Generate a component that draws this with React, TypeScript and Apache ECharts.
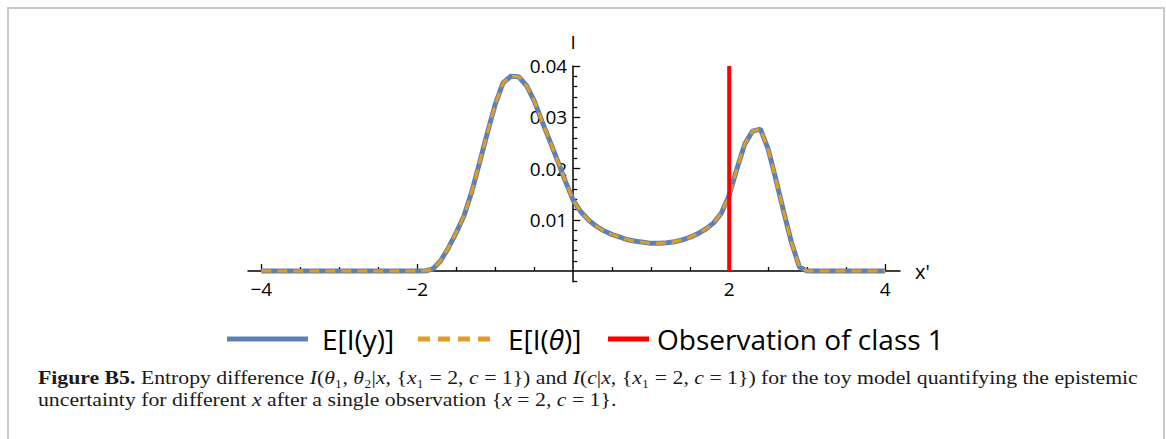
import React, { useEffect, useRef } from "react";
import * as echarts from "echarts";

const xValues = [
  -4, -3.5, -3, -2.5, -2, -1.9, -1.8, -1.7, -1.6, -1.5, -1.4, -1.3, -1.2, -1.1, -1.0,
  -0.9, -0.8, -0.7, -0.6, -0.5, -0.4, -0.3, -0.2, -0.1, 0, 0.1, 0.2, 0.3, 0.4, 0.5,
  0.6, 0.7, 0.8, 0.9, 1.0, 1.1, 1.2, 1.3, 1.4, 1.5, 1.6, 1.7, 1.8, 1.9, 2.0, 2.1,
  2.2, 2.3, 2.4, 2.5, 2.6, 2.7, 2.8, 2.9, 3.0, 3.5, 4,
];
const infoY = [
  0, 0, 0, 0, 0, 0, 0.0004, 0.002, 0.0045, 0.0075, 0.0108, 0.0155, 0.0212, 0.027, 0.0325,
  0.0367, 0.038, 0.0379, 0.0362, 0.0332, 0.0292, 0.0254, 0.0215, 0.0175, 0.0138, 0.0115, 0.0099, 0.0087, 0.0078, 0.0071,
  0.0066, 0.0061, 0.0058, 0.0056, 0.0054, 0.0054, 0.0055, 0.0057, 0.0061, 0.0066, 0.0073, 0.0082, 0.0094, 0.0113, 0.0148, 0.02,
  0.0248, 0.0273, 0.0277, 0.0238, 0.0178, 0.0115, 0.0055, 0.0008, 0, 0, 0,
];
const infoTheta = [
  0, 0, 0, 0, 0, 0, 0.0004, 0.002, 0.0045, 0.0075, 0.0108, 0.0155, 0.0212, 0.027, 0.0325,
  0.0367, 0.038, 0.0379, 0.0362, 0.0332, 0.0292, 0.0254, 0.0215, 0.0175, 0.0138, 0.0115, 0.0099, 0.0087, 0.0078, 0.0071,
  0.0066, 0.0061, 0.0058, 0.0056, 0.0054, 0.0054, 0.0055, 0.0057, 0.0061, 0.0066, 0.0073, 0.0082, 0.0094, 0.0113, 0.0148, 0.02,
  0.0248, 0.0273, 0.0277, 0.0238, 0.0178, 0.0115, 0.0055, 0.0008, 0, 0, 0,
];
const observationX = [2, 2];
const observationY = [0, 0.04];

const xMajorTicks = [-4, -2, 2, 4];
const xMinorTicks = [-3.5, -3, -2.5, -1.5, -1, -0.5, 0.5, 1, 1.5, 2.5, 3, 3.5];
const yMajorTicks = [0.01, 0.02, 0.03, 0.04];
const yMinorTicks = [
  -0.002, 0.002, 0.004, 0.006, 0.008, 0.012, 0.014, 0.016, 0.018, 0.022, 0.024, 0.026,
  0.028, 0.032, 0.034, 0.036, 0.038,
];

const seriesNames = ["E[I(y)]", "E[I(θ)]", "Observation of class 1"];
const captionLine1 =
  "{b|Figure B5.} Entropy difference {i|I}({i|θ}₁, {i|θ}₂|{i|x}, {{i|x}₁ = 2, {i|c} = 1}) and {i|I}({i|c}|{i|x}, {{i|x}₁ = 2, {i|c} = 1}) for the toy model quantifying the epistemic";
const captionLine2 =
  "uncertainty for different {i|x} after a single observation {{i|x} = 2, {i|c} = 1}.";

const X_MIN = -4.17;
const X_MAX = 4.19;
const Y_MIN = -0.0021;
const Y_MAX = 0.04;

const GRID_LEFT = 248;
const GRID_RIGHT = 266;
const GRID_TOP = 66;
const GRID_BOTTOM = 157.2;
const W = 1166;
const H = 439;

const FONT = "Open Sans";
const SERIF = "Liberation Serif";

function fmtX(v: number) {
  return v < 0 ? "\u2212" + Math.abs(v) : String(v);
}

export default function App() {
  const ref = useRef<HTMLDivElement>(null);
  useEffect(() => {
    if (!ref.current) return;
    const chart = echarts.init(ref.current, undefined, { renderer: "svg" });
    const zip = (xs: number[], ys: number[]) => xs.map((x, i) => [x, ys[i]]);

    // place axes through the origin using offsets (labels follow the axis line)
    const gridW = W - GRID_LEFT - GRID_RIGHT;
    const gridH = H - GRID_TOP - GRID_BOTTOM;
    const yAxisOffset = -((0 - X_MIN) / (X_MAX - X_MIN)) * gridW;
    const xAxisOffset = -((0 - Y_MIN) / (Y_MAX - Y_MIN)) * gridH;

    const baseX = {
      type: "value",
      min: X_MIN,
      max: X_MAX,
      position: "bottom",
      offset: xAxisOffset,
      splitLine: { show: false },
    };
    const baseY = {
      type: "value",
      min: Y_MIN,
      max: Y_MAX,
      position: "left",
      offset: yAxisOffset,
      splitLine: { show: false },
    };
    const legendText = (pad: number) => ({
      fontFamily: FONT,
      fontSize: 28,
      color: "#000",
      padding: [0, 0, 0, pad],
      rich: {
        it: { fontFamily: FONT, fontSize: 28, fontStyle: "italic", color: "#000" },
      },
    });
    const captionStyle = {
      fontFamily: SERIF,
      fontSize: 19,
      fill: "#1a1a1a",
      rich: {
        b: { fontFamily: SERIF, fontSize: 19, fontWeight: "bold", fill: "#1a1a1a" },
        i: { fontFamily: SERIF, fontSize: 19, fontStyle: "italic", fill: "#1a1a1a" },
      },
    };
    chart.setOption({
      animation: false,
      backgroundColor: "#ffffff",
      grid: {
        left: GRID_LEFT,
        right: GRID_RIGHT,
        top: GRID_TOP,
        bottom: GRID_BOTTOM,
        containLabel: false,
        outerBoundsMode: "none",
      },
      xAxis: [
        {
          ...baseX,
          name: "x'",
          nameLocation: "end",
          nameGap: 15,
          nameTextStyle: { fontFamily: FONT, fontSize: 20, color: "#000" },
          axisLine: { onZero: false, lineStyle: { color: "#000", width: 1.5 } },
          axisTick: { show: true, inside: true, length: 7, customValues: xMajorTicks, lineStyle: { color: "#000", width: 1.3 } },
          axisLabel: {
            customValues: xMajorTicks,
            formatter: (v: number) => fmtX(v),
            fontFamily: FONT,
            fontSize: 19,
            color: "#000",
            margin: 8,
          },
        },
        {
          ...baseX,
          axisLine: { show: false, onZero: false },
          axisTick: { show: true, inside: true, length: 4, customValues: xMinorTicks, lineStyle: { color: "#000", width: 1.3 } },
          axisLabel: { show: false },
        },
      ],
      yAxis: [
        {
          ...baseY,
          name: "I",
          nameLocation: "end",
          nameGap: 15,
          nameTextStyle: { fontFamily: FONT, fontSize: 19, color: "#000", align: "center" },
          axisLine: { onZero: false, lineStyle: { color: "#000", width: 1.5 } },
          axisTick: { show: true, inside: true, length: 7, customValues: yMajorTicks, lineStyle: { color: "#000", width: 1.3 } },
          axisLabel: {
            customValues: yMajorTicks,
            formatter: (v: number) => v.toFixed(2),
            fontFamily: FONT,
            fontSize: 19,
            color: "#000",
            margin: 6,
          },
        },
        {
          ...baseY,
          axisLine: { show: false, onZero: false },
          axisTick: { show: true, inside: true, length: 4, customValues: yMinorTicks, lineStyle: { color: "#000", width: 1.3 } },
          axisLabel: { show: false },
        },
      ],
      legend: [
        {
          data: [seriesNames[0]],
          left: 227,
          top: 325,
          padding: 0,
          itemWidth: 81,
          itemHeight: 5,
          icon: "rect",
          selectedMode: false,
          textStyle: legendText(9),
        },
        {
          data: [seriesNames[1]],
          left: 418,
          top: 325,
          padding: 0,
          itemWidth: 72,
          itemHeight: 5,
          icon: "path://M0 0H12V5H0Z M20 0H32V5H20Z M40 0H52V5H40Z M60 0H72V5H60Z",
          selectedMode: false,
          formatter: () => "E[I({it|θ})]",
          textStyle: legendText(13),
        },
        {
          data: [seriesNames[2]],
          left: 608,
          top: 325,
          padding: 0,
          itemWidth: 41,
          itemHeight: 5,
          icon: "rect",
          selectedMode: false,
          textStyle: legendText(3),
        },
      ],
      series: [
        {
          name: seriesNames[0],
          type: "line",
          data: zip(xValues, infoY),
          showSymbol: false,
          symbol: "none",
          z: 2,
          color: "#5E81B5",
          lineStyle: { color: "#5E81B5", width: 5 },
        },
        {
          name: seriesNames[1],
          type: "line",
          data: zip(xValues, infoTheta),
          showSymbol: false,
          symbol: "none",
          z: 3,
          color: "#E19C24",
          lineStyle: { color: "#E19C24", width: 3, type: [10, 6] },
        },
        {
          name: seriesNames[2],
          type: "line",
          data: zip(observationX, observationY),
          showSymbol: false,
          symbol: "none",
          z: 4,
          color: "#FF0000",
          lineStyle: { color: "#FF0000", width: 4 },
        },
      ],
      graphic: [
        {
          type: "rect",
          shape: { x: 8, y: 8, width: 1156, height: 480 },
          style: { fill: "none", stroke: "#c8c8c8", lineWidth: 2 },
          silent: true,
        },
        {
          type: "text",
          x: 38,
          y: 366,
          scaleX: 1.145,
          style: { text: captionLine1, ...captionStyle, lineHeight: 22 },
          silent: true,
        },
        {
          type: "text",
          x: 38,
          y: 388,
          scaleX: 1.145,
          style: { text: captionLine2, ...captionStyle, lineHeight: 22 },
          silent: true,
        },
      ],
    });
    return () => chart.dispose();
  }, []);
  return (
    <div
      ref={ref}
      style={{ position: "fixed", left: 0, top: 0, width: W, height: H, background: "#fff" }}
    />
  );
}
